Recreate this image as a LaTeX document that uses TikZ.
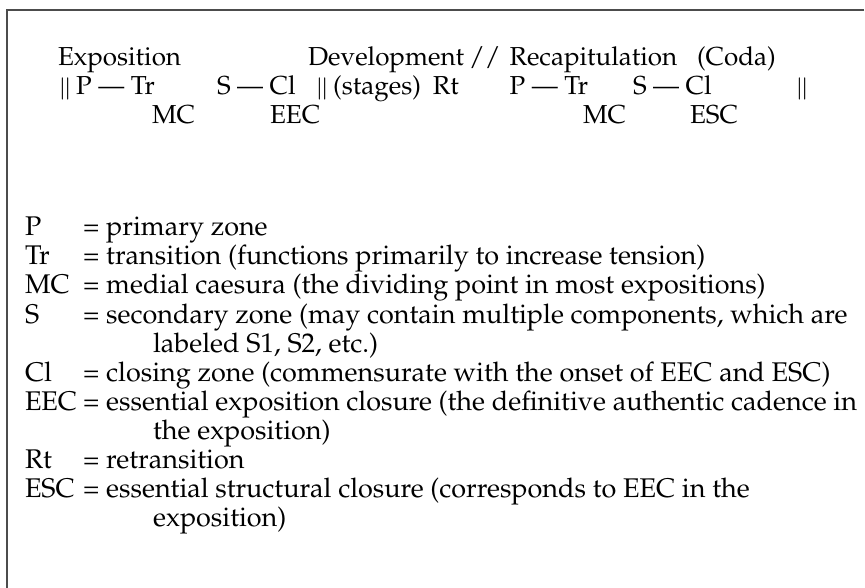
\documentclass[tikz,border=0pt]{standalone}
\usepackage[T1]{fontenc}
\usepackage{mathpazo}
\usepackage{tikz}
\usetikzlibrary{positioning}

\newcommand{\dbar}{\scalebox{1}[0.82]{$\|$}}

\tikzset{
  txt/.style = {anchor=base west, inner sep=0pt, outer sep=0pt, font=\fontsize{26}{29}\selectfont},
  leg/.style = {txt, font=\fontsize{27}{29}\selectfont},
  frame/.style = {draw=black!70, line width=2pt}
}

\begin{document}
\begin{tikzpicture}[x=1pt, y=-1pt]
\useasboundingbox (0,0) rectangle (865,588);
\draw[frame] (864,10) -- (7,10) -- (7,588);
% header: the form in one line
\node[txt] (expo)   at (58,66)  {Exposition};
\node[txt] (devel)  at (308,66) {Development};
\node[txt, right=5pt of devel.base east, anchor=base west] (slash) {//};
\node[txt, right=9pt of slash.base east, anchor=base west] (recap) {Recapitulation};
\node[txt] (coda)   at (697,66) {(Coda)};
\node[txt] (barA)   at (58,95)  {\dbar};
\node[txt, right=4pt of barA.base east, anchor=base west] (ptrA) {P --- Tr};
\node[txt] (sclA)   at (217,95) {S --- Cl};
\node[txt] (barB)   at (315,95) {\dbar};
\node[txt, right=4pt of barB.base east, anchor=base west] (stages) {(stages)};
\node[txt, right=12pt of stages.base east, anchor=base west] (rt) {Rt};
\node[txt] (ptrB)   at (recap.base west |- barB.base) {P --- Tr};
\node[txt] (sclB)   at (633,95) {S --- Cl};
\node[txt] (barC)   at (795,95) {\dbar};
\node[txt] (mcA)    at (152,124) {MC};
\node[txt] (eec)    at (270,124) {EEC};
\node[txt] (mcB)    at (583,124) {MC};
\node[txt] (esc)    at (690,124) {ESC};
% legend
\foreach \i/\ab in {0/P, 1/Tr, 2/MC, 3/S, 5/Cl, 6/EEC, 8/Rt, 9/ESC}
  { \node[leg] (ab\i) at (25,236+29*\i) {\ab}; }
\coordinate (eqcol) at ([xshift=6pt]ab6.base east);
\foreach \i/\df in {0/{primary zone},
                    1/{transition (functions primarily to increase tension)},
                    2/{medial caesura (the dividing point in most expositions)},
                    3/{secondary zone (may contain multiple components, which are},
                    5/{closing zone (commensurate with the onset of EEC and ESC)},
                    6/{essential exposition closure (the definitive authentic cadence in},
                    8/{retransition},
                    9/{essential structural closure (corresponds to EEC in the}}
  { \node[leg] (df\i) at (eqcol |- ab\i.base) {= \df}; }
\foreach \i/\df in {4/{labeled S1, S2, etc.)}, 7/{the exposition)}, 10/{exposition)}}
  { \node[leg] (df\i) at ([xshift=70pt]eqcol |- 0,236+29*\i) {\df}; }
\end{tikzpicture}
\end{document}
